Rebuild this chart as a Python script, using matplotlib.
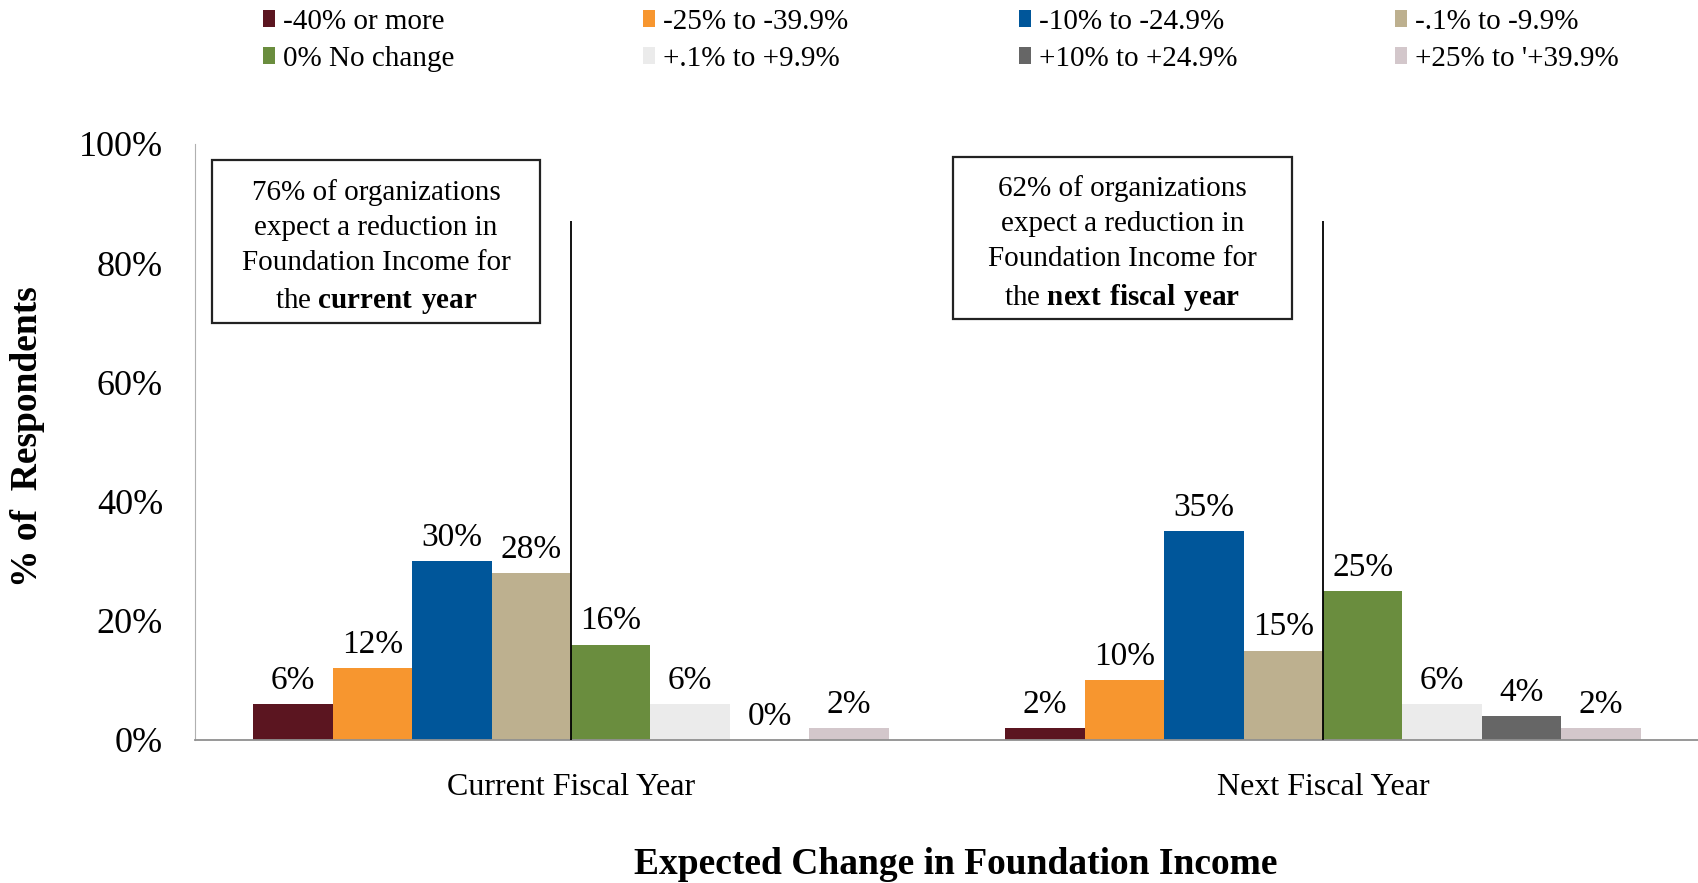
import matplotlib
matplotlib.use('Agg')
import matplotlib.pyplot as plt
from matplotlib.patches import Rectangle
from matplotlib.ticker import PercentFormatter

plt.rcParams['font.family'] = ['Liberation Serif', 'DejaVu Serif']
plt.rcParams['mathtext.fontset'] = 'custom'
plt.rcParams['mathtext.rm'] = 'Liberation Serif'
plt.rcParams['mathtext.bf'] = 'Liberation Serif:bold'

years = ['Current Fiscal Year', 'Next Fiscal Year']
ranges = ['-40% or more', '-25% to -39.9%', '-10% to -24.9%', '-.1% to -9.9%',
          '0% No change', '+.1% to +9.9%', '+10% to +24.9%', "+25% to '+39.9%"]
current_year = [6, 12, 30, 28, 16, 6, 0, 2]
next_year = [2, 10, 35, 15, 25, 6, 4, 2]
colors = ['#5b1520', '#f7962f', '#00569a', '#bdb08f',
          '#6a8d3e', '#ebebeb', '#666666', '#d3c7cb']
reduction = [76, 62]
reduction_words = ['current\\ year', 'next\\ fiscal\\ year']
line_top = 87

fig = plt.figure(figsize=(16.99, 8.83), dpi=100)
ax = fig.add_axes([0.1148, 0.162, 0.8852, 0.675])

w = 0.1056
x = list(range(len(years)))
bars = []
for i, name in enumerate(ranges):
    off = (i - 3.5) * w
    vals = [current_year[i], next_year[i]]
    b = ax.bar([xx + off for xx in x], vals, width=w, color=colors[i], label=name)
    bars.append(b)
    for xx, v in zip(x, vals):
        ax.annotate(f'{v}%', (xx + off, v), xytext=(0, 6), textcoords='offset points',
                    ha='center', va='bottom', fontsize=24)

ax.vlines(x, 0, line_top, color='black', lw=1.3, zorder=3)

ax.set_xlim(-0.5, 1.5)
ax.set_ylim(0, 100)
ax.set_yticks([0, 20, 40, 60, 80, 100])
ax.yaxis.set_major_formatter(PercentFormatter(100, decimals=0))
ax.set_xticks(x)
ax.set_xticklabels(years)
ax.tick_params(axis='y', length=0, pad=23, labelsize=26)
ax.tick_params(axis='x', length=0, pad=24, labelsize=23)
for s in ['top', 'right']:
    ax.spines[s].set_visible(False)
ax.spines['left'].set_color('#b0b0b0')
ax.spines['bottom'].set_color('#909090')
ax.spines['bottom'].set_linewidth(1.3)

fig.text(0.5627, 0.0215, 'Expected Change in Foundation Income', ha='center', va='center',
         fontsize=27, fontweight='bold')
fig.text(0.016, 0.505, '% of  Respondents', ha='center', va='center', rotation=90,
         fontsize=27, fontweight='bold')

# annotation boxes
boxes = [(0.1248, 0.6342, 0.1931, 0.1846), (0.5609, 0.6387, 0.1995, 0.1835)]
for (bx, by, bw, bh), pct, words in zip(boxes, reduction, reduction_words):
    fig.patches.append(Rectangle((bx, by), bw, bh, transform=fig.transFigure,
                                 facecolor='white', edgecolor='#222222', lw=1.6))
    txt = (f'{pct}% of organizations\nexpect a reduction in\n'
           f'Foundation Income for\nthe $\\mathbf{{{words}}}$')
    fig.text(bx + bw / 2, by + bh / 2 - 0.007, txt, ha='center', va='center',
             multialignment='center', fontsize=21, linespacing=1.45)

# legend: 4 columns, filled row by row
col_x = [263 / 1699, 643 / 1699, 1019 / 1699, 1395 / 1699]
for c in range(4):
    fig.legend(handles=[bars[c], bars[c + 4]], labels=[ranges[c], ranges[c + 4]],
               loc='upper left', bbox_to_anchor=(col_x[c], 0.99), frameon=False,
               fontsize=21, handlelength=0.4, handleheight=0.5, handletextpad=0.3,
               labelspacing=0.38, borderpad=0, borderaxespad=0)

fig.savefig('out.png', dpi=100)
